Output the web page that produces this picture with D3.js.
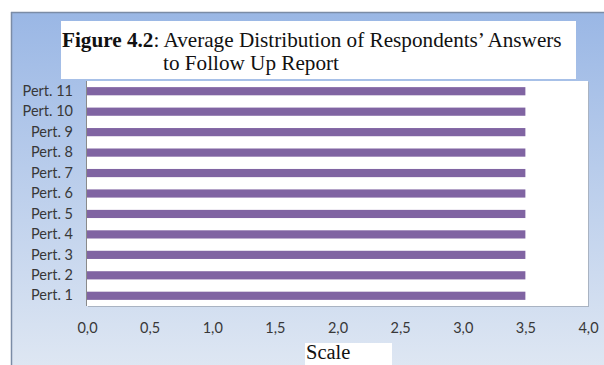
<!DOCTYPE html>
<html>
<head>
<meta charset="utf-8">
<script src="https://cdn.jsdelivr.net/npm/d3@7"></script>
<style>
  html, body { margin: 0; padding: 0; background: #ffffff; }
  svg { display: block; }
</style>
</head>
<body>
<svg id="chart" width="604" height="365"></svg>
<script>
// ---- data ----
const categories = ["Pert. 1", "Pert. 2", "Pert. 3", "Pert. 4", "Pert. 5", "Pert. 6",
                    "Pert. 7", "Pert. 8", "Pert. 9", "Pert. 10", "Pert. 11"];
const values = [3.5, 3.5, 3.5, 3.5, 3.5, 3.5, 3.5, 3.5, 3.5, 3.5, 3.5];
const xTicks = [0, 0.5, 1.0, 1.5, 2.0, 2.5, 3.0, 3.5, 4.0];
const titleBold = "Figure 4.2";
const titleRest = ": Average Distribution of Respondents\u2019 Answers";
const titleLine2 = "to Follow Up Report";
const axisTitle = "Scale";

// ---- layout ----
const W = 604, H = 365;
const plot = { left: 87, right: 588, top: 81, bottom: 306 };
const svg = d3.select("#chart");

const defs = svg.append("defs");
const grad = defs.append("linearGradient").attr("id", "bg").attr("x1", 0).attr("y1", 0).attr("x2", 0).attr("y2", 1);
grad.append("stop").attr("offset", "0%").attr("stop-color", "#9ab7e5");
grad.append("stop").attr("offset", "100%").attr("stop-color", "#e0e8f3");

// outer panel
svg.append("rect").attr("x", 11).attr("y", 12).attr("width", W).attr("height", H)
  .attr("fill", "url(#bg)");
svg.append("line").attr("x1", 11).attr("x2", W).attr("y1", 12.5).attr("y2", 12.5)
  .attr("stroke", "#7b8ca6").attr("stroke-width", 1.5);
svg.append("line").attr("x1", 11.5).attr("x2", 11.5).attr("y1", 12).attr("y2", H)
  .attr("stroke", "#7b8ca6").attr("stroke-width", 1.5);

// plot area
svg.append("rect").attr("x", plot.left + 1).attr("y", plot.top + 1)
  .attr("width", plot.right - plot.left).attr("height", plot.bottom - plot.top)
  .attr("fill", "#a9b3c2");
svg.append("rect").attr("x", plot.left).attr("y", plot.top)
  .attr("width", plot.right - plot.left).attr("height", plot.bottom - plot.top)
  .attr("fill", "#ffffff");

// scales
const x = d3.scaleLinear().domain([0, 4]).range([plot.left, plot.right]);
const y = d3.scaleBand().domain(categories).range([plot.bottom, plot.top]).paddingInner(0.6).paddingOuter(0.3);

// bars
svg.append("g").selectAll("rect").data(categories).join("rect")
  .attr("x", x(0))
  .attr("y", d => y(d))
  .attr("width", (d, i) => x(values[i]) - x(0))
  .attr("height", y.bandwidth())
  .attr("fill", "#8064a2");

// y axis line
svg.append("line").attr("x1", plot.left - 0.5).attr("x2", plot.left - 0.5)
  .attr("y1", plot.top).attr("y2", plot.bottom)
  .attr("stroke", "#8a8a8a").attr("stroke-width", 1);

const fontLabel = "Lato, 'Open Sans', sans-serif";

// y axis labels
const yAxis = d3.axisLeft(y).tickSize(0).tickPadding(14);
const gy = svg.append("g").attr("transform", `translate(${plot.left},0)`).call(yAxis);
gy.select(".domain").remove();
gy.selectAll("text").attr("font-family", fontLabel).attr("font-size", 14.5)
  .attr("fill", "#383838");

// x axis labels
const fmt = v => d3.format(".1f")(v).replace(".", ",");
const xAxis = d3.axisBottom(x).tickValues(xTicks).tickFormat(fmt).tickSize(0).tickPadding(0);
const gx = svg.append("g").attr("transform", `translate(0,${plot.bottom})`).call(xAxis);
gx.select(".domain").remove();
gx.selectAll("text").attr("font-family", fontLabel).attr("font-size", 14.5)
  .attr("fill", "#383838").attr("dy", null).attr("y", 27);

// title box
const serif = "'Liberation Serif', 'Times New Roman', serif";
svg.append("rect").attr("x", 61).attr("y", 21).attr("width", 515).attr("height", 58).attr("fill", "#ffffff");
const t1 = svg.append("text").attr("x", 62).attr("y", 47)
  .attr("font-family", serif).attr("font-size", 21.2).attr("fill", "#111");
t1.append("tspan").attr("font-weight", "bold").text(titleBold);
t1.append("tspan").text(titleRest);
svg.append("text").attr("x", 163).attr("y", 70)
  .attr("font-family", serif).attr("font-size", 21.2).attr("fill", "#111")
  .text(titleLine2);

// axis title box
svg.append("rect").attr("x", 305).attr("y", 343).attr("width", 87).attr("height", 30).attr("fill", "#ffffff");
svg.append("text").attr("x", 306).attr("y", 359)
  .attr("font-family", serif).attr("font-size", 20.5).attr("fill", "#111")
  .text(axisTitle);
</script>
</body>
</html>
